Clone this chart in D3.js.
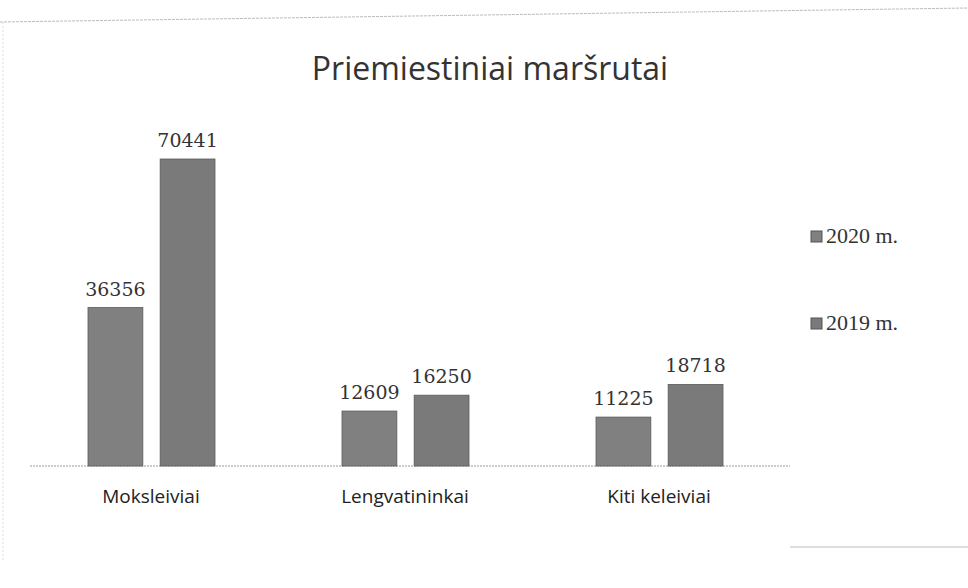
<!DOCTYPE html>
<html>
<head>
<meta charset="utf-8">
<script src="https://cdn.jsdelivr.net/npm/d3@7"></script>
<style>
  body { margin: 0; background: #fff; }
  svg { display: block; }
</style>
</head>
<body>
<div id="chart"></div>
<script>
// data
const categories = ["Moksleiviai", "Lengvatininkai", "Kiti keleiviai"];
const seriesNames = ["2020 m.", "2019 m."];
const values2020 = [36356, 12609, 11225];
const values2019 = [70441, 16250, 18718];

const W = 968, H = 588;
const margin = {top: 60, right: 182, bottom: 122, left: 24};
const width = W - margin.left - margin.right,
      height = H - margin.top - margin.bottom;

const svg = d3.select("#chart")
  .append("svg")
    .attr("width", W)
    .attr("height", H);

// faint scan edges
svg.append("line")
  .attr("x1", 0).attr("y1", 22).attr("x2", W).attr("y2", 8)
  .attr("stroke", "#bbb").attr("stroke-width", 1).attr("stroke-dasharray", "3,1");
svg.append("line")
  .attr("x1", 3).attr("y1", 22).attr("x2", 3).attr("y2", 560)
  .attr("stroke", "#ddd").attr("stroke-width", 1).attr("stroke-dasharray", "2,2");
svg.append("line")
  .attr("x1", 790).attr("y1", 547).attr("x2", W).attr("y2", 547)
  .attr("stroke", "#bbb").attr("stroke-width", 1);

svg.append("text")
  .attr("x", 490).attr("y", 80)
  .attr("text-anchor", "middle")
  .style("font-family", "'Open Sans', 'Liberation Sans', sans-serif")
  .style("font-size", "32px")
  .style("fill", "#333")
  .text("Priemiestiniai maršrutai");

const chart = svg.append("g")
  .attr("transform", "translate(" + margin.left + "," + margin.top + ")");

const x = d3.scaleBand()
  .domain(categories)
  .range([0, 762])
  .paddingInner(0)
  .paddingOuter(0);

// two bars inside each category band
const inner = d3.scaleBand()
  .domain(seriesNames)
  .range([64, 191])
  .paddingInner(0.24)
  .paddingOuter(0);

const y = d3.scaleLinear()
  .domain([0, 70441])
  .range([height, height - 307]);

const color = d3.scaleOrdinal()
  .domain(seriesNames)
  .range(["#808080", "#7a7a7a"]);

const rows = categories.map((c, i) => ({
  cat: c,
  vals: [
    {key: seriesNames[0], v: values2020[i]},
    {key: seriesNames[1], v: values2019[i]}
  ]
}));

// baseline axis
const xAxis = chart.append("g")
  .attr("transform", "translate(0," + height + ")")
  .call(d3.axisBottom(x).tickSize(0).tickPadding(24));
xAxis.select(".domain")
  .attr("d", "M6,0H766")
  .attr("stroke", "#999")
  .attr("stroke-dasharray", "2,1");
xAxis.selectAll("text")
  .style("font-family", "'Open Sans', 'Liberation Sans', sans-serif")
  .style("font-size", "19px")
  .style("fill", "#222");

const groups = chart.selectAll(".grp")
  .data(rows)
  .enter().append("g")
    .attr("class", "grp")
    .attr("transform", d => "translate(" + x(d.cat) + ",0)");

groups.selectAll("rect")
  .data(d => d.vals)
  .enter().append("rect")
    .attr("x", d => inner(d.key))
    .attr("width", inner.bandwidth())
    .attr("y", d => y(d.v))
    .attr("height", d => height - y(d.v))
    .style("fill", d => color(d.key))
    .style("stroke", "#5a5a5a")
    .style("stroke-width", 0.8);

groups.selectAll(".lbl")
  .data(d => d.vals)
  .enter().append("text")
    .attr("class", "lbl")
    .attr("x", d => inner(d.key) + inner.bandwidth() / 2)
    .attr("y", d => y(d.v) - 12)
    .attr("text-anchor", "middle")
    .style("font-family", "'DejaVu Serif', 'Liberation Serif', serif")
    .style("font-size", "19px")
    .style("fill", "#333")
    .text(d => d.v);

// legend
const legend = svg.append("g")
  .attr("transform", "translate(811,236)");
const li = legend.selectAll("g")
  .data(seriesNames)
  .enter().append("g")
    .attr("transform", (d, i) => "translate(0," + i * 87 + ")");
li.append("rect")
  .attr("x", 0).attr("y", -5)
  .attr("width", 11).attr("height", 11)
  .style("fill", d => color(d))
  .style("stroke", "#555");
li.append("text")
  .attr("x", 15).attr("y", 7)
  .style("font-family", "'Liberation Serif', serif")
  .style("font-size", "22px")
  .style("fill", "#333")
  .text(d => d);
</script>
</body>
</html>
